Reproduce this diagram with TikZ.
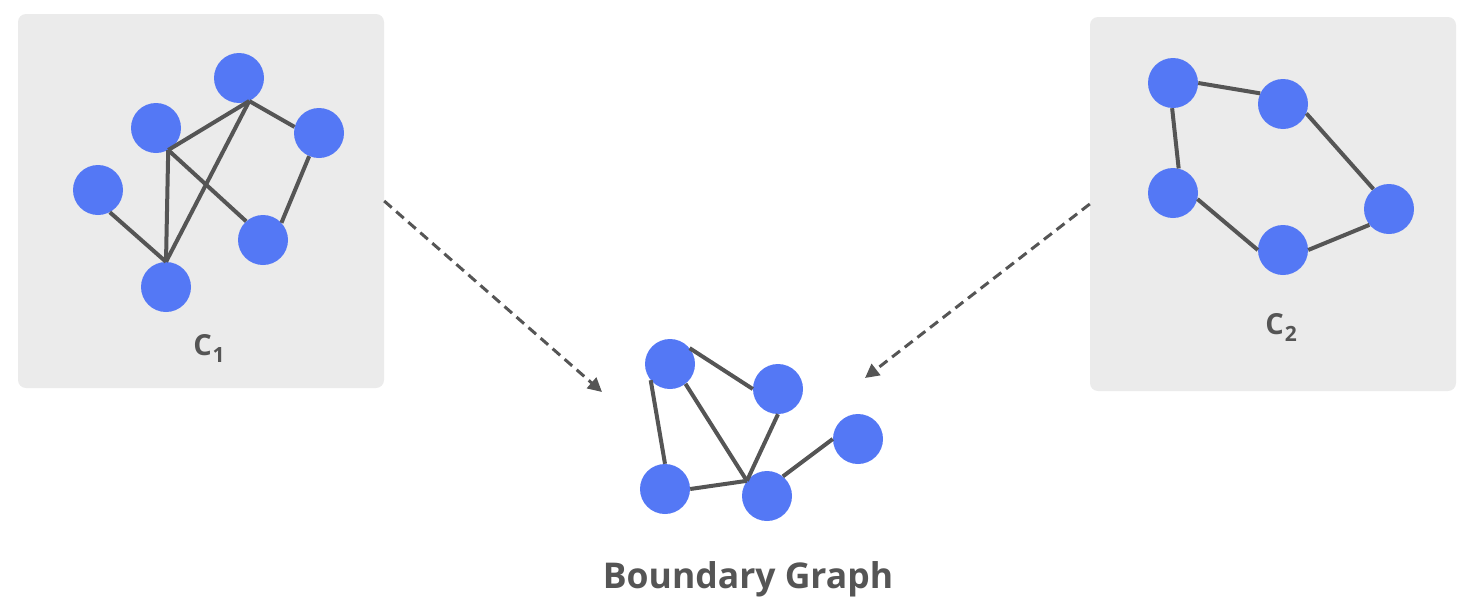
\documentclass[tikz,border=0pt]{standalone}
\usepackage{fontspec}
\setmainfont{Open Sans}
\usetikzlibrary{arrows.meta}
\definecolor{vertexblue}{RGB}{84,120,245}
\definecolor{edgegray}{RGB}{85,85,85}
\definecolor{panelgray}{RGB}{235,235,235}
\newcommand\compname[1]{C\kern1pt\raisebox{-7pt}{\fontsize{21}{24}\selectfont #1}}
\begin{document}
\begin{tikzpicture}[x=1pt, y=-1pt,
    vertex/.style={circle, fill=vertexblue, inner sep=0pt, minimum size=50pt},
    link/.style={draw=edgegray, line width=4pt},
    panel/.style={rectangle, rounded corners=8pt, fill=panelgray, inner sep=0pt, minimum width=366pt, minimum height=374pt},
    flow/.style={draw=edgegray, line width=3pt, dash pattern=on 10pt off 6pt, -{Triangle[length=14pt, width=14pt]}},
    grouplabel/.style={text=edgegray, inner sep=0pt, anchor=base, font=\bfseries\fontsize{29}{32}\selectfont}]
    \useasboundingbox (0,0) rectangle (1478,608);

    \node[panel] (c1) at (201,201) {};
    \node[panel] (c2) at (1273,204) {};

    % first component
    \node[vertex] (u1) at (239,78) {};
    \node[vertex] (u2) at (156,128) {};
    \node[vertex] (u3) at (319,133) {};
    \node[vertex] (u4) at (98,190) {};
    \node[vertex] (u5) at (263,240) {};
    \node[vertex] (u6) at (166,287) {};
    \draw[link] (u1.-66) -- (u2.-61);
    \draw[link] (u1.-66) -- (u6.90);
    \draw[link] (u1.-66) -- (u3.166);
    \draw[link] (u2.-61) -- (u6.90);
    \draw[link] (u2.-61) -- (u5.132);
    \draw[link] (u4.-62) -- (u6.90);
    \draw[link] (u3.-113) -- (u5.43);
    \node[grouplabel] (l1) at (209,355) {\compname{1}};

    % second component
    \node[vertex] (v1) at (1173,83) {};
    \node[vertex] (v2) at (1283,104) {};
    \node[vertex] (v3) at (1173,193) {};
    \node[vertex] (v4) at (1389,209) {};
    \node[vertex] (v5) at (1283,250) {};
    \draw[link] (v1.0) -- (v2.155);
    \draw[link] (v1.-92) -- (v3.77);
    \draw[link] (v2.-22) -- (v4.128);
    \draw[link] (v3.-14) -- (v5.180);
    \draw[link] (v5.0) -- (v4.219);
    \node[grouplabel] (l2) at (1281,334) {\compname{2}};

    % boundary graph
    \node[vertex] (w1) at (670,364) {};
    \node[vertex] (w2) at (778,389) {};
    \node[vertex] (w3) at (858,439) {};
    \node[vertex] (w4) at (665,489) {};
    \node[vertex] (w5) at (767,496) {};
    \draw[link] (w1.39) -- (w2.180);
    \draw[link] (w1.220) -- (w4.90);
    \draw[link] (w1.-52) -- (w5.143);
    \draw[link] (w2.-90) -- (w5.143);
    \draw[link] (w4.0) -- (w5.143);
    \draw[link] (w5.51) -- (w3.180);
    \node[grouplabel, font=\bfseries\fontsize{35.5}{40}\selectfont] (l3) at (748,588) {Boundary Graph};

    \coordinate (t1) at (602,392);
    \coordinate (t2) at (865,378);
    \draw[flow] (c1.east) -- (t1);
    \draw[flow] (c2.west) -- (t2);
\end{tikzpicture}
\end{document}
